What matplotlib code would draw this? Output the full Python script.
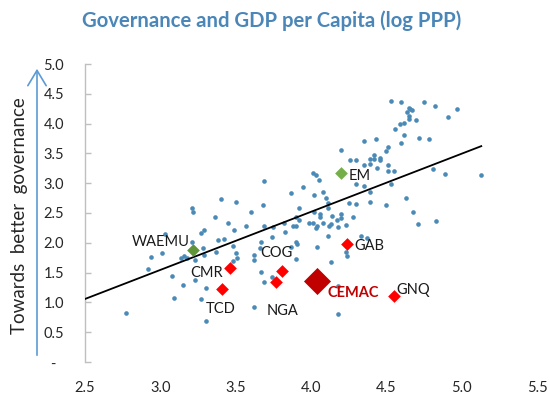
import matplotlib
matplotlib.use("Agg")
import matplotlib.pyplot as plt
import numpy as np

plt.rcParams['font.family'] = ['Lato', 'DejaVu Sans']

# Country observations: log GDP per capita (PPP) vs governance score
gdp_log = [
    2.77, 2.92, 2.94, 3.01, 3.03, 3.08, 3.09, 3.14, 3.16, 3.18,
    3.15, 3.21, 3.22, 3.21, 3.23, 3.23, 3.27, 3.28, 3.29, 3.29,
    3.30, 3.27, 3.30, 3.36, 3.37, 3.38, 3.40, 3.42, 3.45, 3.48,
    3.48, 3.49, 3.50, 3.51, 3.50, 3.57, 3.60, 3.62, 3.62, 3.62,
    3.66, 3.67, 3.67, 3.68, 3.69, 3.69, 3.69, 3.74, 3.74, 3.75,
    3.82, 3.83, 3.87, 3.87, 3.88, 3.90, 3.90, 3.92, 3.90, 3.91,
    3.90, 3.92, 3.95, 3.99, 4.01, 4.04, 4.03, 4.01, 4.03, 4.05,
    4.02, 4.02, 4.04, 4.06, 4.06, 4.08, 4.10, 4.11, 4.11, 4.11,
    4.12, 4.13, 4.13, 4.14, 4.18, 4.18, 4.18, 4.20, 4.20, 4.20,
    4.23, 4.23, 4.24, 4.25, 4.30, 4.26, 4.30, 4.28, 4.30, 4.35,
    4.33, 4.37, 4.35, 4.39, 4.35, 4.39, 4.39, 4.39, 4.42, 4.46,
    4.46, 4.42, 4.43, 4.44, 4.50, 4.51, 4.51, 4.51, 4.55, 4.50,
    4.53, 4.53, 4.56, 4.59, 4.60, 4.60, 4.62, 4.62, 4.63, 4.65,
    4.66, 4.67, 4.64, 4.65, 4.65, 4.70, 4.68, 4.71, 4.72, 4.75,
    4.78, 4.81, 4.82, 4.83, 4.89, 4.91, 4.97, 5.13, 4.08, 4.17,
]
governance = [
    0.83, 1.56, 1.76, 1.83, 2.14, 1.45, 1.08, 1.74, 1.78, 1.74,
    1.30, 2.58, 2.51, 2.01, 1.71, 1.38, 2.16, 1.91, 2.21, 1.80,
    1.25, 1.05, 0.68, 2.43, 1.85, 2.04, 2.73, 2.06, 2.33, 1.95,
    1.70, 2.21, 1.83, 1.75, 2.68, 2.28, 2.51, 1.80, 1.71, 0.93,
    1.91, 2.01, 1.51, 2.63, 2.28, 3.03, 1.34, 1.43, 2.09, 2.26,
    2.33, 2.18, 2.83, 1.93, 2.28, 2.28, 2.44, 2.39, 2.01, 1.98,
    1.73, 2.58, 2.93, 2.33, 2.33, 2.29, 2.24, 3.17, 3.14, 3.06,
    2.81, 2.51, 1.93, 2.48, 2.44, 2.86, 2.76, 2.11, 2.66, 2.58,
    2.29, 2.31, 1.68, 2.45, 2.27, 1.28, 0.81, 2.48, 2.42, 3.56,
    2.30, 1.85, 1.78, 2.66, 2.65, 3.39, 3.39, 2.43, 2.99, 2.95,
    2.12, 2.08, 3.31, 3.33, 3.71, 2.85, 2.68, 3.40, 3.48, 3.43,
    3.39, 3.41, 3.74, 3.26, 3.54, 3.61, 3.31, 3.21, 3.21, 2.63,
    2.99, 4.38, 3.91, 3.99, 4.36, 3.67, 3.81, 4.01, 2.76, 4.26,
    4.24, 4.23, 4.19, 4.13, 4.07, 4.06, 2.51, 2.31, 3.76, 4.36,
    3.74, 3.23, 4.29, 2.36, 3.16, 4.11, 4.24, 3.13, 2.33, 2.38,
]

# Highlighted economies
cemac_names = ["CMR", "TCD", "COG", "NGA", "GAB", "GNQ"]
cemac_x = [3.46, 3.41, 3.81, 3.77, 4.24, 4.55]
cemac_y = [1.58, 1.23, 1.53, 1.35, 1.98, 1.11]

group_names = ["WAEMU", "EM"]
group_x = [3.22, 4.20]
group_y = [1.88, 3.17]

avg_name = "CEMAC"
avg_x = 4.04
avg_y = 1.36

# Linear trend: governance = intercept + slope * log GDP
trend_intercept = -1.38
trend_slope = 0.975

x_ticks = [2.5, 3.0, 3.5, 4.0, 4.5, 5.0, 5.5]
y_ticks = [0.0, 0.5, 1.0, 1.5, 2.0, 2.5, 3.0, 3.5, 4.0, 4.5, 5.0]
y_tick_labels = ["-  ", "0.5", "1.0", "1.5", "2.0", "2.5", "3.0", "3.5", "4.0", "4.5", "5.0"]

PX = 0.72  # points per pixel at 100 dpi

fig = plt.figure(figsize=(5.5, 4.0), dpi=100)
ax = fig.add_axes([85 / 550, 1 - 362 / 400, (537 - 85) / 550, (362 - 64) / 400])

ax.scatter(gdp_log, governance, s=11, color="#4A8AB6", linewidths=0, zorder=2)

xs = np.array([x_ticks[0], max(gdp_log)])
ax.plot(xs, trend_intercept + trend_slope * xs, color="black", lw=1.3, zorder=3)

ax.scatter(cemac_x, cemac_y, marker="D", s=42, color="#FF0000", linewidths=0, zorder=4)
ax.scatter([group_x[0]], [group_y[0]], marker="D", s=42, color="#5F9439", linewidths=0, zorder=4)
ax.scatter([group_x[1]], [group_y[1]], marker="D", s=42, color="#74AF49", linewidths=0, zorder=4)
ax.scatter([avg_x], [avg_y], marker="D", s=190, color="#C00000", linewidths=0, zorder=4)

label_offsets = {
    "CMR": (-22.7, -4.8), "TCD": (-1.6, -20.0), "COG": (-5.6, 17.4),
    "NGA": (5.8, -29.7), "GAB": (22.1, -2.5), "GNQ": (19.5, 6.0),
    "WAEMU": (-33.0, 7.5), "EM": (18.6, -2.7),
}
for name, x, y in zip(cemac_names + group_names, cemac_x + group_x, cemac_y + group_y):
    dx, dy = label_offsets[name]
    ax.annotate(name, (x, y), xytext=(dx * PX, dy * PX), textcoords="offset points",
                ha="center", va="center", fontsize=10.5, color="#1a1a1a", zorder=5)
ax.annotate(avg_name, (avg_x, avg_y), xytext=(36.1 * PX, -11.8 * PX), textcoords="offset points",
            ha="center", va="center", fontsize=10.5, color="#C00000", fontweight="bold", zorder=5)

ax.set_xlim(2.5, 5.5)
ax.set_ylim(0, 5)
ax.set_xticks(x_ticks)
ax.set_xticklabels([f"{v:.1f}" for v in x_ticks])
ax.set_yticks(y_ticks)
ax.set_yticklabels(y_tick_labels)

for side in ["top", "right", "bottom"]:
    ax.spines[side].set_visible(False)
ax.spines["left"].set_color("#BFBFBF")
ax.spines["left"].set_linewidth(1.0)
ax.tick_params(axis="y", direction="in", length=4, width=1.0, color="#BFBFBF",
               pad=15, labelsize=10.5, labelcolor="#262626")
ax.tick_params(axis="x", length=0, pad=14, labelsize=10.5, labelcolor="#262626")

fig.text(0.494, 1 - 21 / 400, "Governance and GDP per Capita (log PPP)", ha="center", va="center",
         fontsize=14.6, fontweight="bold", color="#4A86B8")

fig.text(20 / 550, 1 - 216 / 400, "Towards  better  governance", rotation=90,
         ha="center", va="center", fontsize=13.5, color="#262626")
fig.add_artist(matplotlib.patches.FancyArrowPatch(
    (37 / 550, 1 - 358 / 400), (37 / 550, 1 - 66 / 400), transform=fig.transFigure,
    arrowstyle="->,head_length=5,head_width=3", color="#5B9BD5", lw=1.2, mutation_scale=2.2))

fig.savefig("out.png", dpi=100)
